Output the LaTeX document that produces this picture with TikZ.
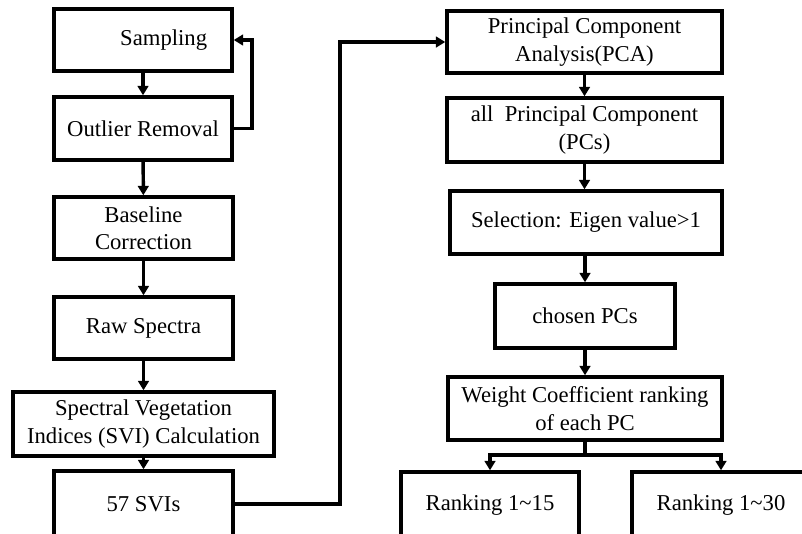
\documentclass[tikz,border=0pt]{standalone}
\usepackage{fontspec}
\setmainfont{Liberation Serif}
\usetikzlibrary{arrows.meta}
\newcommand{\pxu}{0.75pt}
\begin{document}
\begin{tikzpicture}[x=0.75pt,y=-0.75pt,
  box/.style={draw=black,line width=2.6pt,fill=white,inner sep=0pt,align=center,
    font=\fontsize{17}{20.5}\selectfont},
  conn/.style={line width=2.6pt,-{Triangle[length=7pt,width=8pt]}},
  plain/.style={line width=2.6pt}]
\useasboundingbox (0,0) rectangle (802,533);
\clip (0,0) rectangle (802,533);
% left column
\node[box,minimum width=178*\pxu,minimum height=62*\pxu] (samp) at (143,40) {\hspace*{31pt}Sampling};
\node[box,minimum width=178*\pxu,minimum height=63*\pxu] (outl) at (143,128.5) {Outlier Removal};
\node[box,minimum width=179*\pxu,minimum height=62*\pxu] (base) at (143.5,228) {Baseline\\Correction};
\node[box,minimum width=179*\pxu,minimum height=62*\pxu] (raw) at (143.5,328) {Raw Spectra};
\node[box,minimum width=261*\pxu,minimum height=64*\pxu] (svi) at (143.5,424) {Spectral Vegetation\\Indices (SVI) Calculation};
\node[box,minimum width=179*\pxu,minimum height=66*\pxu] (svis) at (143.5,504) {57 SVIs};
% right column
\node[box,minimum width=275*\pxu,minimum height=62*\pxu] (pca) at (584.5,42) {Principal Component\\Analysis(PCA)};
\node[box,minimum width=275*\pxu,minimum height=64*\pxu] (allpc) at (584.5,130) {all\ \ Principal Component\\(PCs)};
\node[box,minimum width=272*\pxu,minimum height=63*\pxu] (sel) at (586,222.5) {Selection: Eigen value>1};
\node[box,minimum width=180*\pxu,minimum height=64*\pxu] (chosen) at (585,316) {chosen PCs};
\node[box,minimum width=274*\pxu,minimum height=63*\pxu] (weight) at (585,408.5) {Weight Coefficient ranking\\of each PC};
\node[box,minimum width=178*\pxu,minimum height=66*\pxu] (r15) at (490,505) {Ranking 1\char"007E 15};
\node[box,minimum width=178*\pxu,minimum height=66*\pxu] (r30) at (721,505) {Ranking 1\char"007E 30};
% connectors
\draw[conn] (samp) -- (outl);
\draw[conn] (outl.east) -- (252,128.5) |- (samp.east);
\draw[conn] (outl) -- (base);
\draw[conn] (base) -- (raw);
\draw[conn] (raw.south) -- (raw.south |- svi.north);
\draw[conn] (svi) -- (svis);
\draw[conn] (svis.east) -- (340,504) |- (pca.west);
\draw[conn] (pca.south) -- (pca.south |- allpc.north);
\draw[conn] (allpc.south) -- (allpc.south |- sel.north);
\draw[conn] (sel.south -| chosen.north) -- (chosen.north);
\draw[conn] (chosen) -- (weight);
\coordinate (split) at (585,455);
\draw[plain] (weight.south) -- (split);
\draw[conn] (split) -| (r15.north);
\draw[conn] (split) -| (r30.north);
\end{tikzpicture}
\end{document}
